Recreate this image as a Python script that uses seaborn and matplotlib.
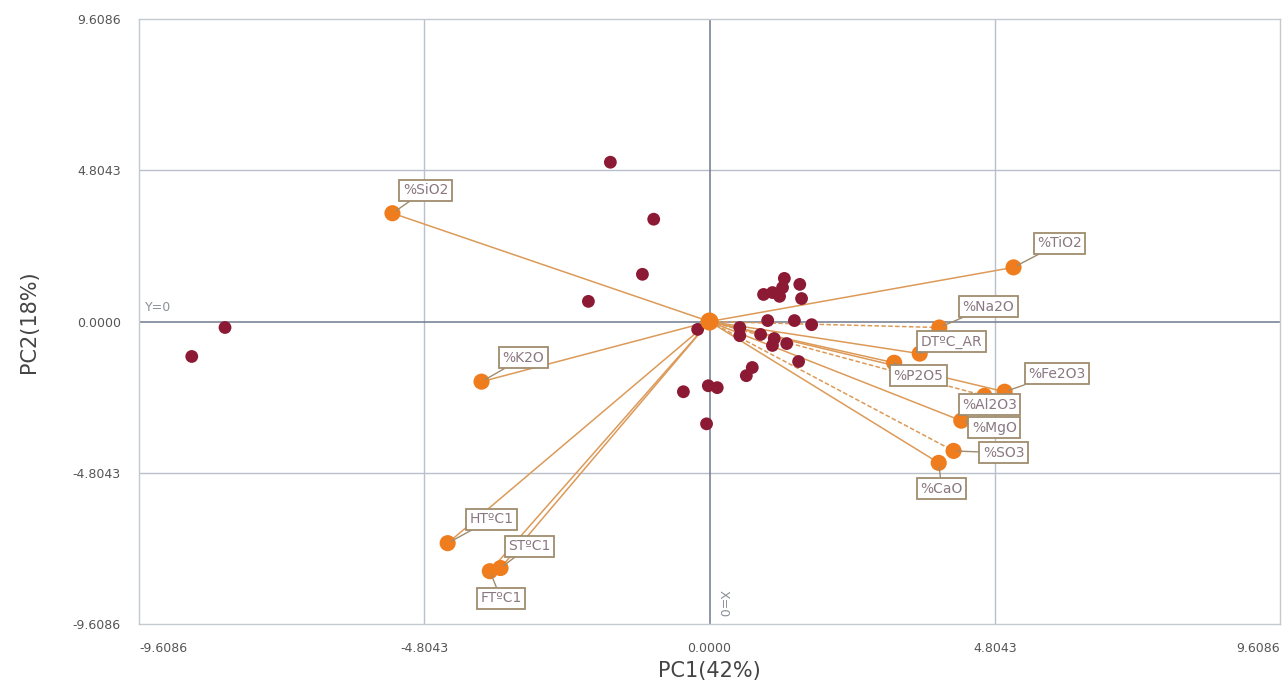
import numpy as np
import pandas as pd
import matplotlib
matplotlib.use("Agg")
import matplotlib.pyplot as plt
import seaborn as sns
from matplotlib.ticker import FixedLocator, MultipleLocator

# PCA scores (observations)
score_pc1 = [-8.72, -8.16, -1.67, -0.94, -1.13, -2.04, -0.20, 0.51, 0.51, 0.91,
             1.06, 1.18, 1.26, 1.23, 1.52, 1.55, 0.98, 1.43, 1.72, 0.86,
             1.09, 1.06, 1.30, 1.50, 0.72, 0.62, -0.44, -0.02, 0.13, -0.05]
score_pc2 = [-1.11, -0.19, 5.06, 3.25, 1.50, 0.64, -0.25, -0.19, -0.45, 0.86,
             0.92, 0.80, 1.37, 1.08, 1.18, 0.73, 0.03, 0.03, -0.10, -0.41,
             -0.54, -0.76, -0.70, -1.27, -1.46, -1.72, -2.23, -2.04, -2.10, -3.25]

# Variable loadings (scaled to the score space)
variables = ["%SiO2", "%TiO2", "%Na2O", "DTºC_AR", "%P2O5", "%Fe2O3", "%Al2O3",
             "%MgO", "%SO3", "%CaO", "%K2O", "HTºC1", "STºC1", "FTºC1"]
load_pc1 = [-5.34, 5.12, 3.87, 3.54, 3.11, 4.97, 4.63, 4.24, 4.11, 3.86,
            -3.84, -4.41, -3.52, -3.70]
load_pc2 = [3.44, 1.72, -0.19, -1.02, -1.31, -2.23, -2.36, -3.15, -4.11, -4.49,
            -1.91, -7.04, -7.83, -7.93]
dashed_vars = ["%Na2O", "%Al2O3", "%SO3"]

# label offsets in pixels (dx, dy) from each loading marker
label_offsets = {
    "%SiO2": (33, 23), "%TiO2": (46, 24), "%Na2O": (49, 21), "DTºC_AR": (32, 12),
    "%P2O5": (24, -13), "%Fe2O3": (52, 18), "%Al2O3": (5, -9), "%MgO": (33, -7),
    "%SO3": (50, -2), "%CaO": (3, -26), "%K2O": (42, 24), "HTºC1": (44, 24),
    "STºC1": (29, 22), "FTºC1": (11, -27),
}

lim = 9.6086
major_ticks = [-9.6086, -4.8043, 0.0, 4.8043, 9.6086]
tick_labels = ["-9.6086", "-4.8043", "0.0000", "4.8043", "9.6086"]

scores = pd.DataFrame({"PC1": score_pc1, "PC2": score_pc2})
loads = pd.DataFrame({"var": variables, "PC1": load_pc1, "PC2": load_pc2})

sns.set_theme(style="white")
plt.rcParams["font.family"] = ["DejaVu Sans"]

fig = plt.figure(figsize=(12.87, 6.97), dpi=100)
fig.patch.set_facecolor("white")
ax = fig.add_axes([0.108, 0.1047, 0.8866, 0.868])
ax.set_facecolor("white")

orange = "#ef7d1e"
line_col = "#dc9a58"
red = "#8c1a34"
box_edge = "#a08c6e"
text_col = "#8a7880"
grid_col = "#b9c0cb"
axis_col = "#707a8e"

ax.set_xlim(-lim, lim)
ax.set_ylim(-lim, lim)

# reference grid and zero axes
for v in (-4.8043, 4.8043):
    ax.axvline(v, color=grid_col, lw=1.0, zorder=1)
    ax.axhline(v, color=grid_col, lw=1.0, zorder=1)
ax.axvline(0, color=axis_col, lw=1.1, zorder=1)
ax.axhline(0, color=axis_col, lw=1.1, zorder=1)

# loading vectors
for _, r in loads.iterrows():
    ls = (0, (3, 1.5)) if r["var"] in dashed_vars else "-"
    ax.plot([0, r["PC1"]], [0, r["PC2"]], color=line_col, lw=1.1, ls=ls, zorder=2)

sns.scatterplot(data=scores, x="PC1", y="PC2", color=red, s=85, edgecolor="none",
                ax=ax, zorder=3, legend=False)
sns.scatterplot(data=loads, x="PC1", y="PC2", color=orange, s=135, edgecolor="none",
                ax=ax, zorder=4, legend=False)
ax.scatter([0], [0], color=orange, s=170, edgecolor="none", zorder=4)

for _, r in loads.iterrows():
    dx, dy = label_offsets[r["var"]]
    ax.annotate(r["var"], xy=(r["PC1"], r["PC2"]), xytext=(dx, dy),
                textcoords="offset pixels", ha="center", va="center",
                fontsize=10, color=text_col, zorder=6,
                bbox=dict(boxstyle="square,pad=0.25", fc="white", ec=box_edge, lw=1.3),
                arrowprops=dict(arrowstyle="-", color=box_edge, lw=1.0,
                                shrinkA=0, shrinkB=3))

# frame
for sp in ax.spines.values():
    sp.set_visible(True)
    sp.set_color("#c4c9d0")
    sp.set_linewidth(1.0)

ax.xaxis.set_major_locator(FixedLocator(major_ticks))
ax.yaxis.set_major_locator(FixedLocator(major_ticks))
ax.xaxis.set_minor_locator(MultipleLocator(4.8043 / 5))
ax.yaxis.set_minor_locator(MultipleLocator(4.8043 / 3))
ax.set_xticklabels(tick_labels)
ax.set_yticklabels(tick_labels)
ax.tick_params(axis="both", which="major", direction="out", length=7, width=1,
               color="#c4c9d0", labelsize=9, labelcolor="#555555", pad=6)
ax.tick_params(axis="both", which="minor", direction="out", length=4, width=1,
               color="#c4c9d0")
xl = ax.get_xticklabels()
xl[0].set_ha("left")
xl[-1].set_ha("right")

ax.set_xlabel("PC1(42%)", fontsize=15, color="#444444", labelpad=4)
ax.set_ylabel("PC2(18%)", fontsize=15, color="#444444", labelpad=24)

ax.text(-9.5, 0.25, "Y=0", fontsize=9, color="#8a8f98", ha="left", va="bottom")
ax.text(0.12, -8.95, "X=0", fontsize=9, color="#8a8f98", rotation=270,
        ha="left", va="center")

fig.savefig("out.png", dpi=100, facecolor="white")
